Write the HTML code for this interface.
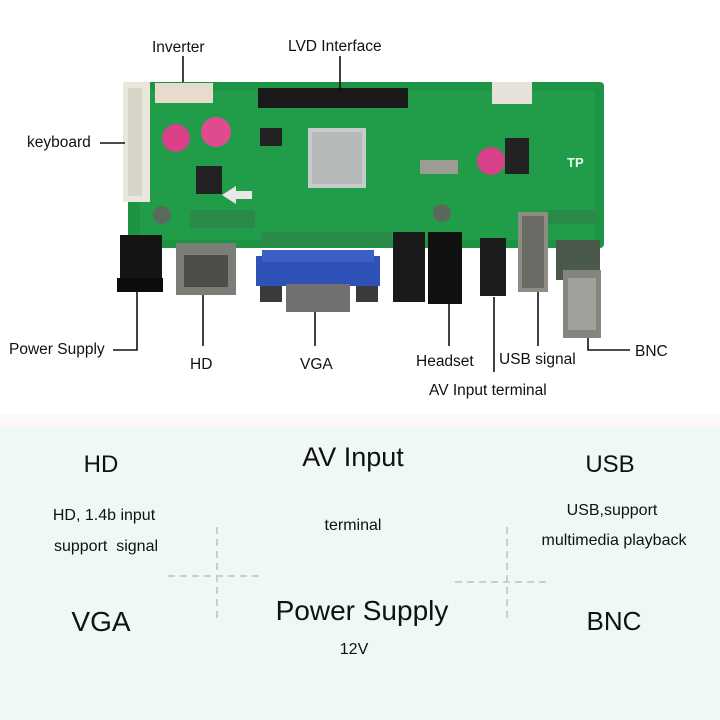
<!DOCTYPE html>
<html><head><meta charset="utf-8"><style>
html,body{margin:0;padding:0;background:#fff;}
svg{display:block;}
text{font-family:"Liberation Sans",sans-serif;fill:#111;white-space:pre;}
</style></head><body>
<svg width="720" height="720" viewBox="0 0 720 720" xmlns="http://www.w3.org/2000/svg">
<rect width="720" height="720" fill="#fff"/>
<rect x="0" y="414" width="720" height="14" fill="#fdf7f8"/>
<rect x="0" y="427" width="720" height="293" fill="#eef8f4"/>

<!-- board -->
<rect x="128" y="82" width="476" height="166" rx="4" fill="#1d9444"/>
<rect x="140" y="90" width="455" height="150" fill="#24a24c" opacity="0.6"/>
<rect x="123" y="82" width="27" height="120" fill="#e9e6dc"/>
<rect x="128" y="88" width="14" height="108" fill="#d8d4c8"/>
<rect x="155" y="83" width="58" height="20" fill="#e7dccb"/>
<rect x="258" y="88" width="150" height="20" fill="#1a1a1a"/>
<rect x="308" y="128" width="58" height="60" fill="#c8cbcc"/>
<rect x="312" y="132" width="50" height="52" fill="#b5b9ba"/>
<circle cx="176" cy="138" r="14" fill="#d8408a"/>
<circle cx="216" cy="132" r="15" fill="#e04b90"/>
<circle cx="491" cy="161" r="14" fill="#d8408a"/>
<rect x="196" y="166" width="26" height="28" fill="#222"/>
<rect x="260" y="128" width="22" height="18" fill="#222"/>
<rect x="505" y="138" width="24" height="36" fill="#222"/>
<rect x="420" y="160" width="38" height="14" fill="#9c9c94"/>
<rect x="492" y="82" width="40" height="22" fill="#e6e2da"/>
<text x="567" y="167" font-size="13" font-weight="bold" style="fill:#dfe">TP</text>
<polygon points="222,195 236,186 236,191 252,191 252,199 236,199 236,204" fill="#e8e8e8"/>
<circle cx="162" cy="215" r="9" fill="#5a6a5a"/>
<circle cx="442" cy="213" r="9" fill="#5a6a5a"/>
<rect x="190" y="210" width="65" height="18" fill="#2a8a48"/>
<rect x="262" y="232" width="130" height="14" fill="#2a8a48"/>
<rect x="545" y="210" width="52" height="14" fill="#2a8a48"/>

<!-- connectors -->
<rect x="120" y="235" width="42" height="45" fill="#151515"/>
<rect x="117" y="278" width="46" height="14" fill="#0c0c0c"/>
<rect x="176" y="243" width="60" height="52" fill="#7d7d78"/>
<rect x="184" y="255" width="44" height="32" fill="#4d4d4a"/>
<rect x="256" y="256" width="124" height="30" fill="#2f52b8"/>
<rect x="262" y="250" width="112" height="12" fill="#3a60c8"/>
<rect x="286" y="284" width="64" height="28" fill="#707070"/>
<rect x="260" y="286" width="22" height="16" fill="#3a3a3a"/>
<rect x="356" y="286" width="22" height="16" fill="#3a3a3a"/>
<rect x="393" y="232" width="32" height="70" fill="#1a1a1a"/>
<rect x="428" y="232" width="34" height="72" fill="#111"/>
<rect x="480" y="238" width="26" height="58" fill="#1c1c1c"/>
<rect x="518" y="212" width="30" height="80" fill="#8d8d86"/>
<rect x="522" y="216" width="22" height="72" fill="#6b6b66"/>
<rect x="556" y="240" width="44" height="40" fill="#4a5a4a"/>
<rect x="563" y="270" width="38" height="68" fill="#85857f"/>
<rect x="568" y="278" width="28" height="52" fill="#a0a09a"/>

<g stroke="#111" stroke-width="1.6" fill="none">
<line x1="183" y1="56" x2="183" y2="82"/>
<line x1="340" y1="56" x2="340" y2="92"/>
<line x1="100" y1="143" x2="125" y2="143"/>
<polyline points="113,350 137,350 137,292"/>
<line x1="203" y1="295" x2="203" y2="346"/>
<line x1="315" y1="312" x2="315" y2="346"/>
<line x1="449" y1="304" x2="449" y2="346"/>
<line x1="494" y1="297" x2="494" y2="372"/>
<line x1="538" y1="292" x2="538" y2="346"/>
<polyline points="588,338 588,350 630,350"/>
</g>

<g font-size="15.5">
<text x="152" y="52">Inverter</text>
<text x="288" y="51">LVD Interface</text>
<text x="27" y="147">keyboard</text>
<text x="9" y="354">Power Supply</text>
<text x="190" y="369">HD</text>
<text x="300" y="369">VGA</text>
<text x="416" y="366">Headset</text>
<text x="499" y="364">USB signal</text>
<text x="635" y="356">BNC</text>
<text x="429" y="395">AV Input terminal</text>
</g>

<g stroke="#c9cfcc" stroke-width="2" stroke-dasharray="7,5">
<line x1="217" y1="527" x2="217" y2="622"/>
<line x1="168" y1="576" x2="262" y2="576"/>
<line x1="507" y1="527" x2="507" y2="622"/>
<line x1="455" y1="582" x2="550" y2="582"/>
</g>

<g text-anchor="middle">
<text x="101" y="472" font-size="24">HD</text>
<text x="353" y="466" font-size="27">AV Input</text>
<text x="610" y="472" font-size="24">USB</text>
<text x="104" y="520" font-size="16">HD, 1.4b input</text>
<text x="106" y="551" font-size="16">support  signal</text>
<text x="353" y="530" font-size="16">terminal</text>
<text x="612" y="515" font-size="16">USB,support</text>
<text x="614" y="545" font-size="16">multimedia playback</text>
<text x="101" y="631" font-size="28">VGA</text>
<text x="362" y="620" font-size="28">Power Supply</text>
<text x="614" y="630" font-size="26">BNC</text>
<text x="354" y="654" font-size="16">12V</text>
</g>
</svg>
</body></html>
